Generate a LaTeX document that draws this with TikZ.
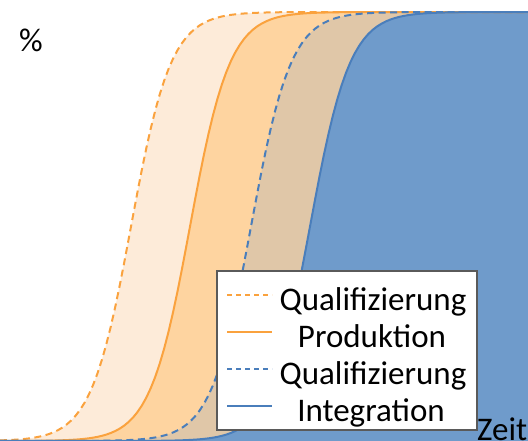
\documentclass[tikz,border=0pt]{standalone}
\usepackage{fontspec}
\setmainfont{Carlito}
\definecolor{peach}{RGB}{253,235,217}
\definecolor{orfill}{RGB}{254,212,160}
\definecolor{tanfill}{RGB}{224,199,168}
\definecolor{blfill}{RGB}{111,155,203}
\definecolor{orline}{RGB}{250,162,62}
\definecolor{blline}{RGB}{74,126,187}
\definecolor{boxgray}{RGB}{90,90,90}
\tikzset{declare function={sig(\t,\c)=441-429/(1+exp(-max(-9,min(9,(\t-\c)/20))));}}
\begin{document}
\begin{tikzpicture}[x=1pt,y=-1pt,
  curveline/.style={line width=2pt},
  dashline/.style={curveline,dash pattern=on 7pt off 4.5pt},
  lbl/.style={font=\fontsize{33}{34}\selectfont,inner sep=0pt},
  legtext/.style={lbl,anchor=base}]
\useasboundingbox (0,0) rectangle (528,441);
% fills
\fill[peach] (0,441) -- plot[domain=0:528,samples=120] (\x,{sig(\x,131)}) -- (528,441) -- cycle;
\fill[orfill] (0,441) -- plot[domain=0:528,samples=120] (\x,{sig(\x,190)}) -- (528,441) -- cycle;
\fill[tanfill] (0,441) -- plot[domain=0:528,samples=120] (\x,{sig(\x,251)}) -- (528,441) -- cycle;
\fill[blfill] (0,441) -- plot[domain=0:528,samples=120] (\x,{sig(\x,310)}) -- (528,441) -- cycle;
% lines
\draw[dashline,orline] plot[domain=0:528,samples=120] (\x,{sig(\x,131)});
\draw[curveline,orline] plot[domain=0:528,samples=120] (\x,{sig(\x,190)});
\draw[dashline,blline] plot[domain=0:528,samples=120] (\x,{sig(\x,251)});
\draw[curveline,blline] plot[domain=0:528,samples=120] (\x,{sig(\x,310)});
% axis labels
\node[lbl,anchor=base west] (pct) at (19,51.5) {\%};
\node[lbl,anchor=base west] (zeit) at (477,440) {Zeit};
% legend
\node[draw=boxgray,fill=white,line width=1.4pt,minimum width=260pt,minimum height=159pt,inner sep=0pt] (legend) at (347,350.5) {};
\coordinate (l1a) at (227,295); \coordinate (l1b) at (272,295);
\coordinate (l2a) at (227,332); \coordinate (l2b) at (272,332);
\coordinate (l3a) at (227,369); \coordinate (l3b) at (272,369);
\coordinate (l4a) at (227,406); \coordinate (l4b) at (272,406);
\draw[line width=1.8pt,orline,dash pattern=on 5pt off 4pt] (l1a) -- (l1b);
\draw[line width=1.8pt,orline] (l2a) -- (l2b);
\draw[line width=1.8pt,blline,dash pattern=on 5pt off 4pt] (l3a) -- (l3b);
\draw[line width=1.8pt,blline] (l4a) -- (l4b);
\node[legtext] (t1) at (373,310.5) {Qualifizierung};
\node[legtext] (t2) at (372,347.5) {Produktion};
\node[legtext] (t3) at (373,384.5) {Qualifizierung};
\node[legtext] (t4) at (371,421.5) {Integration};
\end{tikzpicture}
\end{document}
